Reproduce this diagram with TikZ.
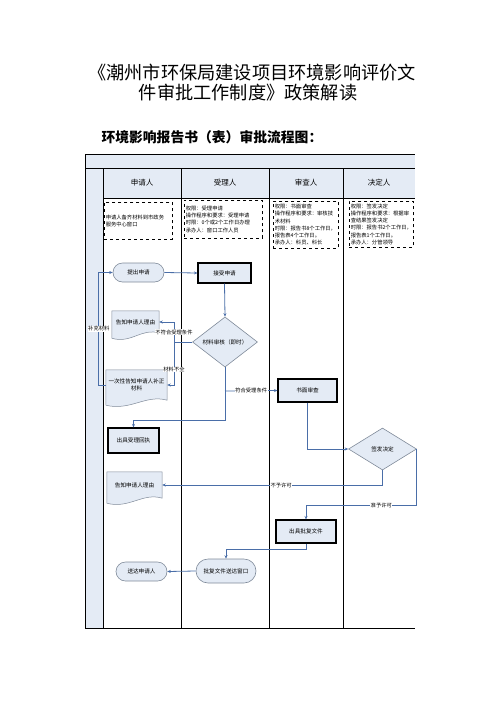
\documentclass[tikz,border=0pt]{standalone}
\usepackage{fontspec}
\setmainfont{Noto Sans CJK SC}
\usetikzlibrary{shapes.geometric,shapes.misc,arrows.meta,calc,backgrounds}
\definecolor{paleblue}{HTML}{E4EBF5}
\definecolor{flowblue}{HTML}{4A6EA8}
\definecolor{edgegrey}{HTML}{7F8A99}
\newcommand{\docoutline}[1]{%
  \begin{pgfonlayer}{background}
  \draw[edgegrey, line width=0.5pt, fill=paleblue] (#1.north west) -- (#1.north east) -- (#1.south east)
    .. controls ($(#1.south east)!0.35!(#1.south west)+(0,-6)$) and ($(#1.south east)!0.6!(#1.south west)+(0,11)$) .. ($(#1.south west)+(0,5)$) -- cycle;
  \end{pgfonlayer}}
\begin{document}
\begin{tikzpicture}[x=1pt, y=-1pt,
  lane/.style={line width=0.9pt},
  note/.style={draw, dashed, line width=0.5pt, anchor=north west, inner sep=1.5pt, align=left, font=\fontsize{5.3}{7.2}\selectfont},
  proc/.style={draw, line width=1.1pt, fill=paleblue, inner sep=1pt, font=\fontsize{5.6}{7}\selectfont},
  term/.style={rounded rectangle, draw=edgegrey, line width=0.6pt, fill=paleblue, inner sep=1pt, font=\fontsize{5.6}{7}\selectfont},
  decision/.style={diamond, draw=edgegrey, line width=0.6pt, fill=paleblue, inner sep=0pt, font=\fontsize{5.6}{7}\selectfont},
  docn/.style={inner sep=1pt, align=center, font=\fontsize{5.6}{7}\selectfont},
  flow/.style={draw=flowblue, line width=0.8pt, -{Stealth[length=3.5pt,width=3pt]}},
  lbl/.style={fill=white, inner sep=0.5pt, text=black, font=\fontsize{5.3}{6}\selectfont}]
\useasboundingbox (0,0) rectangle (496,702);

\node (title1) at (252,73) {\fontsize{18.2}{22}\selectfont 《潮州市环保局建设项目环境影响评价文};
\node (title2) at (248,93) {\fontsize{18.2}{22}\selectfont 件审批工作制度》政策解读};
\node[anchor=west] (subtitle) at (98,137) {\fontsize{13.8}{16}\selectfont\bfseries 环境影响报告书（表）审批流程图：};

\fill[paleblue] (85,154) rectangle (415,168);
\fill[paleblue] (85,168) rectangle (103,628);
\fill[paleblue] (103,168) rectangle (415,198);
\draw[lane] (85,154) -- (415,154);
\draw[lane] (85,168) -- (415,168);
\draw[lane] (103,198) -- (415,198);
\draw[lane] (85,628) -- (415,628);
\draw[line width=0.5pt] (85,154) -- (85,628);
\foreach \x in {103,181,269,343}
  \draw[lane] (\x,168) -- (\x,628);
\foreach \x/\t in {142/申请人, 225/受理人, 306/审查人, 379/决定人}
  \node[font=\fontsize{7.5}{9}\selectfont] (head\x) at (\x,183) {\t};

\node[note, minimum width=68, minimum height=37, text width=65] (note1) at (104,202) {申请人备齐材料到市政务\\服务中心窗口};
\node[note, minimum width=78, minimum height=38, text width=75] (note2) at (184,200) {权限：受理申请\\操作程序和要求：受理申请\\时限：0个或2个工作日办理\\承办人：窗口工作人员};
\node[note, minimum width=65, minimum height=47, text width=62] (note3) at (273,201) {权限：书面审查\\操作程序和要求：审核技\\术材料\\时限：报告书8个工作日，\\报告表4个工作日。\\承办人：科员、科长};
\node[note, minimum width=64, minimum height=46, text width=61] (note4) at (349,201) {权限：签发决定\\操作程序和要求：根据审\\查结果签发决定\\时限：报告书2个工作日，\\报告表1个工作日。\\承办人：分管领导};

\node[term, minimum width=53, minimum height=19] (submit) at (138.5,272.5) {提出申请};
\node[proc, minimum width=53, minimum height=20] (accept) at (224.5,273) {接受申请};
\node[decision, minimum width=65, minimum height=38] (check) at (225,342) {材料审核（即时）};
\node[docn, minimum width=47, minimum height=22] (tell1) at (135.5,322) {告知申请人理由};
\node[docn, minimum width=61, minimum height=30, text width=58] (fix) at (136.5,385) {一次性告知申请人补正\\材料};
\node[proc, minimum width=59, minimum height=23] (review) at (307.5,390.5) {书面审查};
\node[proc, minimum width=51, minimum height=25] (receipt) at (133.5,440.5) {出具受理回执};
\node[decision, minimum width=68, minimum height=42] (decide) at (382.5,449) {签发决定};
\node[docn, minimum width=55, minimum height=26] (tell2) at (134.5,485) {告知申请人理由};
\node[proc, minimum width=60, minimum height=23] (permit) at (306,531.5) {出具批复文件};
\node[term, minimum width=62, minimum height=24] (deliver) at (226,571) {批复文件送达窗口};
\node[term, minimum width=53, minimum height=19] (notify) at (141.5,571.5) {送达申请人};
\docoutline{tell1}
\docoutline{fix}
\docoutline{tell2}

\coordinate (split) at (174,342);
\coordinate (pass) at (225,391);
\coordinate (turn) at (225,420);

\draw[flow] (submit.east) -- (accept.west);
\draw[flow] (accept.south) -- (check.north);
\draw[flow, -] (check.west) -- (split);
\draw[flow] (split) |- node[lbl, pos=0.25] {不符合受理条件} (tell1.east);
\draw[flow] (split) |- node[lbl, pos=0.32] {材料不全} (fix.east);
\draw[flow] (fix.west) -- ++(-7,0) |- node[lbl, pos=0.25] {补充材料} (submit.west);
\draw[flow] (check.south) -- (turn) -| (receipt.north);
\draw[flow] (pass) -- node[lbl] {符合受理条件} (review.west);
\draw[flow] (review.south) |- (decide.west);
\draw[flow] (decide.south) |- node[lbl, pos=0.73] {不予许可} (tell2.east);
\draw[flow] (decide.east) |- node[lbl, pos=0.66] {准予许可} ($(permit.north)+(0,-14)$) -- (permit.north);
\draw[flow] (permit.south) -- ++(0,6) -| (deliver.north);
\draw[flow] (deliver.west) -- (notify.east);
\end{tikzpicture}
\end{document}
